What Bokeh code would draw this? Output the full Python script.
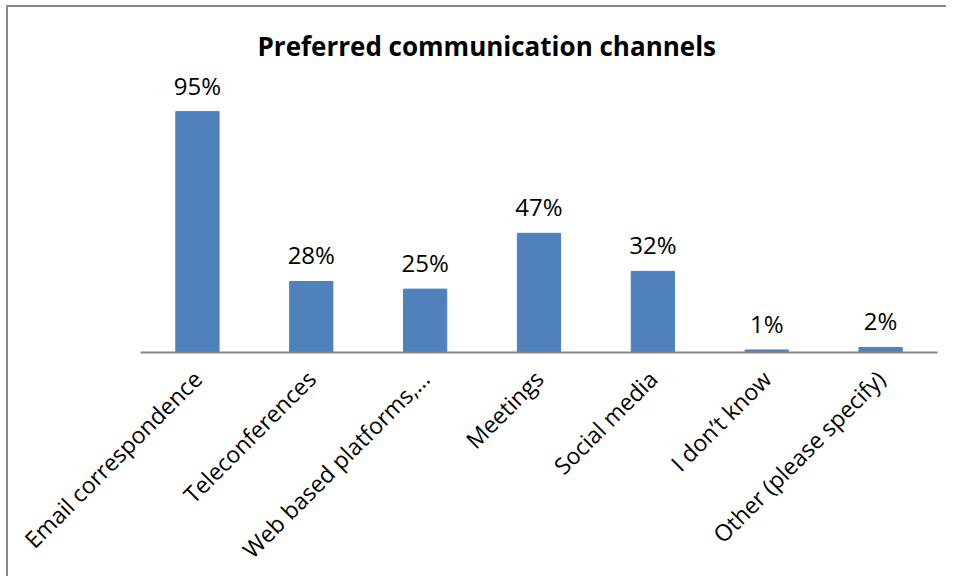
import math
from bokeh.plotting import figure
from bokeh.models import ColumnDataSource, FactorRange, Range1d
from bokeh.core.properties import value
from bokeh.embed import file_html
from bokeh.resources import INLINE

categories = ["Email correspondence", "Teleconferences", "Web based platforms,\u2026",
              "Meetings", "Social media", "I don\u2019t know", "Other (please specify)"]
values = [95, 28, 25, 47, 32, 1, 2]
labels = [f"{v}%" for v in values]

src = ColumnDataSource(dict(cat=categories, val=values, lab=labels))

p = figure(x_range=FactorRange(*categories, range_padding=0), y_range=Range1d(0, 111.2),
           width=940, height=571, output_backend="svg", toolbar_location=None,
           min_border_left=132, min_border_right=11, min_border_top=63, min_border_bottom=220,
           title="Preferred communication channels")
p.styles = {"border-top": "2px solid #8a8a8a", "border-left": "2px solid #8a8a8a",
            "margin-top": "5px", "margin-left": "6px"}

p.vbar(x="cat", top="val", width=0.38, source=src, color="#4F81BD")
p.text(x="cat", y="val", text="lab", source=src, text_align="center", text_baseline="bottom",
       y_offset=-10, text_font=value("Open Sans"), text_font_size="24px", text_color="#000000")

p.title.text_font = "Open Sans"
p.title.text_font_style = "bold"
p.title.text_font_size = "26px"
p.title.align = "left"
p.title.offset = 117
p.title.standoff = 13
p.title.text_color = "#000000"

p.yaxis.visible = False
p.xgrid.grid_line_color = None
p.ygrid.grid_line_color = None
p.outline_line_color = None
p.xaxis.axis_line_color = "#868686"
p.xaxis.axis_line_width = 2
p.xaxis.major_tick_line_color = None
p.xaxis.minor_tick_line_color = None
p.xaxis.major_label_orientation = math.pi / 4
p.xaxis.major_label_text_font = "Open Sans"
p.xaxis.major_label_text_font_size = "23px"
p.xaxis.major_label_text_color = "#000000"
p.xaxis.major_label_standoff = 16

open("out.html", "w").write(file_html(p, INLINE))
